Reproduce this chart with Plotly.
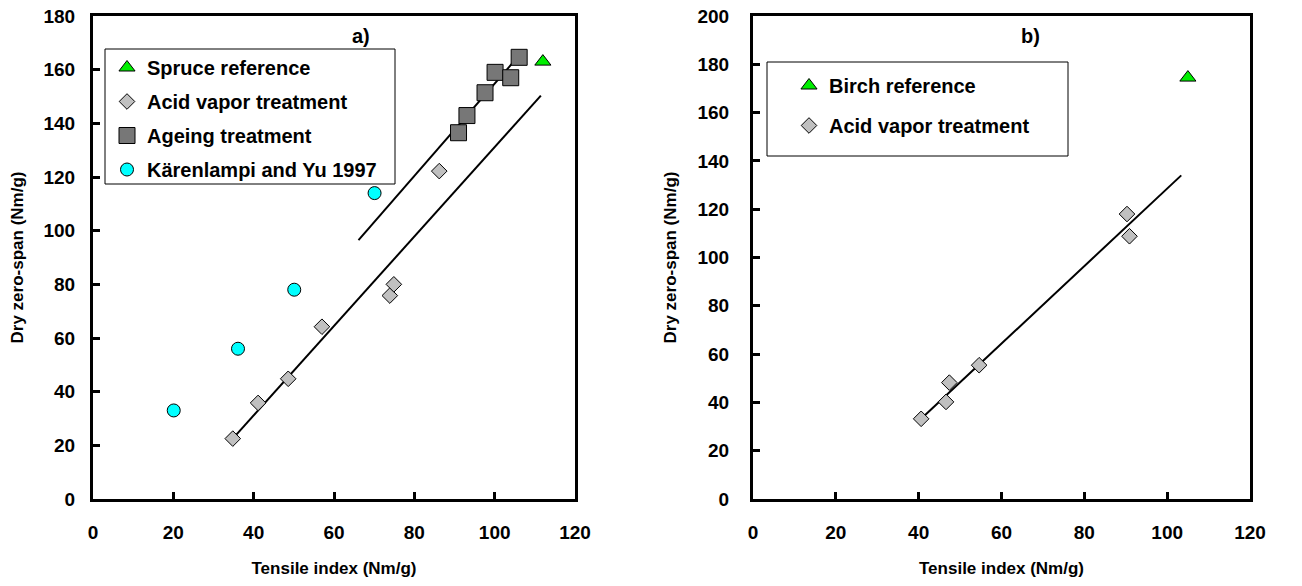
import plotly.graph_objects as go

# ---------------- Data: panel a) ----------------
spruce_ref_x = [112.0]
spruce_ref_y = [163.0]
acid_a_x = [34.8, 41.1, 48.6, 57.0, 73.9, 74.9, 86.2]
acid_a_y = [22.5, 35.8, 44.8, 64.2, 75.8, 80.0, 122.2]
ageing_x = [91.0, 93.1, 97.6, 100.1, 104.0, 106.1]
ageing_y = [136.5, 142.9, 151.4, 159.0, 157.0, 164.6]
karen_x = [20.1, 36.1, 50.1, 70.1]
karen_y = [33.0, 56.0, 78.0, 114.0]
fit_acid_a_x = [34.8, 111.5]
fit_acid_a_y = [22.5, 150.3]
fit_ageing_x = [66.1, 106.2]
fit_ageing_y = [96.5, 165.5]

# ---------------- Data: panel b) ----------------
birch_ref_x = [105.0]
birch_ref_y = [174.5]
acid_b_x = [40.6, 46.6, 47.4, 54.6, 90.3, 90.9]
acid_b_y = [33.2, 40.2, 48.2, 55.4, 118.0, 108.8]
fit_acid_b_x = [40.6, 103.4]
fit_acid_b_y = [33.2, 134.0]

x_ticks = [0, 20, 40, 60, 80, 100, 120]
y_ticks_a = [0, 20, 40, 60, 80, 100, 120, 140, 160, 180]
y_ticks_b = [0, 20, 40, 60, 80, 100, 120, 140, 160, 180, 200]

FONT = "Liberation Sans"
OFF = 8  # page body margin
W, H = 1302 - OFF, 586 - OFF
ML, MR, MT, MB = 93 - OFF, 52, 16 - OFF, 586 - 499
PW, PH = W - ML - MR, H - MT - MB


def px(sx):  # screen pixel -> paper x
    return (sx - OFF - ML) / PW


def py(sy):  # screen pixel -> paper y
    return (H - MB - (sy - OFF)) / PH


fig = go.Figure()


def mk(color, symbol, size):
    return dict(color=color, symbol=symbol, size=size, line=dict(color="black", width=1))


# panel a traces
fig.add_trace(go.Scatter(x=fit_acid_a_x, y=fit_acid_a_y, mode="lines",
                         line=dict(color="black", width=2), showlegend=False,
                         xaxis="x", yaxis="y"))
fig.add_trace(go.Scatter(x=fit_ageing_x, y=fit_ageing_y, mode="lines",
                         line=dict(color="black", width=2), showlegend=False,
                         xaxis="x", yaxis="y"))
fig.add_trace(go.Scatter(x=spruce_ref_x, y=spruce_ref_y, mode="markers", name="Spruce reference",
                         marker=mk("#00EE00", "triangle-up", 14), legend="legend",
                         legendgroup="a1", xaxis="x", yaxis="y"))
fig.add_trace(go.Scatter(x=acid_a_x, y=acid_a_y, mode="markers", name="Acid vapor treatment",
                         marker=mk("#C0C0C0", "diamond", 12), legend="legend",
                         legendgroup="a2", xaxis="x", yaxis="y"))
fig.add_trace(go.Scatter(x=ageing_x, y=ageing_y, mode="markers", name="Ageing treatment",
                         marker=mk("#777777", "square", 16), legend="legend",
                         legendgroup="a3", xaxis="x", yaxis="y"))
fig.add_trace(go.Scatter(x=karen_x, y=karen_y, mode="markers", name="Kärenlampi and Yu 1997",
                         marker=mk("#00FFFF", "circle", 13), legend="legend",
                         legendgroup="a4", xaxis="x", yaxis="y"))

# panel b traces
fig.add_trace(go.Scatter(x=fit_acid_b_x, y=fit_acid_b_y, mode="lines",
                         line=dict(color="black", width=2), showlegend=False,
                         xaxis="x2", yaxis="y2"))
fig.add_trace(go.Scatter(x=birch_ref_x, y=birch_ref_y, mode="markers", name="Birch reference",
                         marker=mk("#00EE00", "triangle-up", 14), legend="legend2",
                         legendgroup="b1", xaxis="x2", yaxis="y2"))
fig.add_trace(go.Scatter(x=acid_b_x, y=acid_b_y, mode="markers", name="Acid vapor treatment",
                         marker=mk("#C0C0C0", "diamond", 12), legend="legend2",
                         legendgroup="b2", xaxis="x2", yaxis="y2"))

tickfont = dict(family=FONT, size=19, color="black", weight="bold")
titlefont = dict(family=FONT, size=17, color="black", weight="bold")
legfont = dict(family=FONT, size=20, color="black", weight="bold")


def xaxis(domain, anchor):
    return dict(domain=domain, anchor=anchor, range=[0, 120], tickvals=x_ticks,
                ticks="inside", ticklen=7, tickwidth=3, tickcolor="black",
                showline=True, linecolor="black", linewidth=3, mirror=True,
                showgrid=False, zeroline=False, tickfont=tickfont,
                ticklabelstandoff=14, automargin=False, ticklabeloverflow="allow",
                title=dict(text="Tensile index (Nm/g)", font=titlefont, standoff=21))


def yaxis(domain, anchor, rng, ticks, so):
    return dict(domain=domain, anchor=anchor, range=rng, tickvals=ticks,
                ticks="inside", ticklen=7, tickwidth=3, tickcolor="black",
                showline=True, linecolor="black", linewidth=3, mirror=True,
                showgrid=False, zeroline=False, tickfont=tickfont,
                ticklabelstandoff=so, automargin=False, ticklabeloverflow="allow",
                title=dict(text="Dry zero-span (Nm/g)", font=titlefont, standoff=17))


fig.update_layout(
    width=W, height=H,
    margin=dict(l=ML, r=MR, t=MT, b=MB),
    paper_bgcolor="white", plot_bgcolor="white",
    xaxis=xaxis([0, px(575)], "y"),
    yaxis=yaxis([0, 1], "x", [0, 180], y_ticks_a, 11),
    xaxis2=xaxis([px(753), 1], "y2"),
    yaxis2=yaxis([0, 1], "x2", [0, 200], y_ticks_b, 17),
    legend=dict(x=px(107), y=py(48), xanchor="left", yanchor="top",
                bgcolor="rgba(0,0,0,0)", borderwidth=0,
                font=legfont, tracegroupgap=5, itemwidth=30),
    legend2=dict(x=px(789), y=py(66), xanchor="left", yanchor="top",
                 bgcolor="rgba(0,0,0,0)", borderwidth=0,
                 font=legfont, tracegroupgap=11, itemwidth=30),
    shapes=[
        dict(type="rect", xref="paper", yref="paper", x0=px(105), x1=px(395),
             y0=py(184), y1=py(49), line=dict(color="black", width=1),
             fillcolor="white", layer="below"),
        dict(type="rect", xref="paper", yref="paper", x0=px(767), x1=px(1068),
             y0=py(156), y1=py(62), line=dict(color="black", width=1),
             fillcolor="white", layer="below"),
    ],
    annotations=[
        dict(text="a)", x=px(361), y=py(36), xref="paper", yref="paper",
             xanchor="center", yanchor="middle", showarrow=False,
             font=dict(family=FONT, size=20, color="black", weight="bold")),
        dict(text="b)", x=px(1030), y=py(36), xref="paper", yref="paper",
             xanchor="center", yanchor="middle", showarrow=False,
             font=dict(family=FONT, size=20, color="black", weight="bold")),
    ],
)

fig.write_html("out.html")
